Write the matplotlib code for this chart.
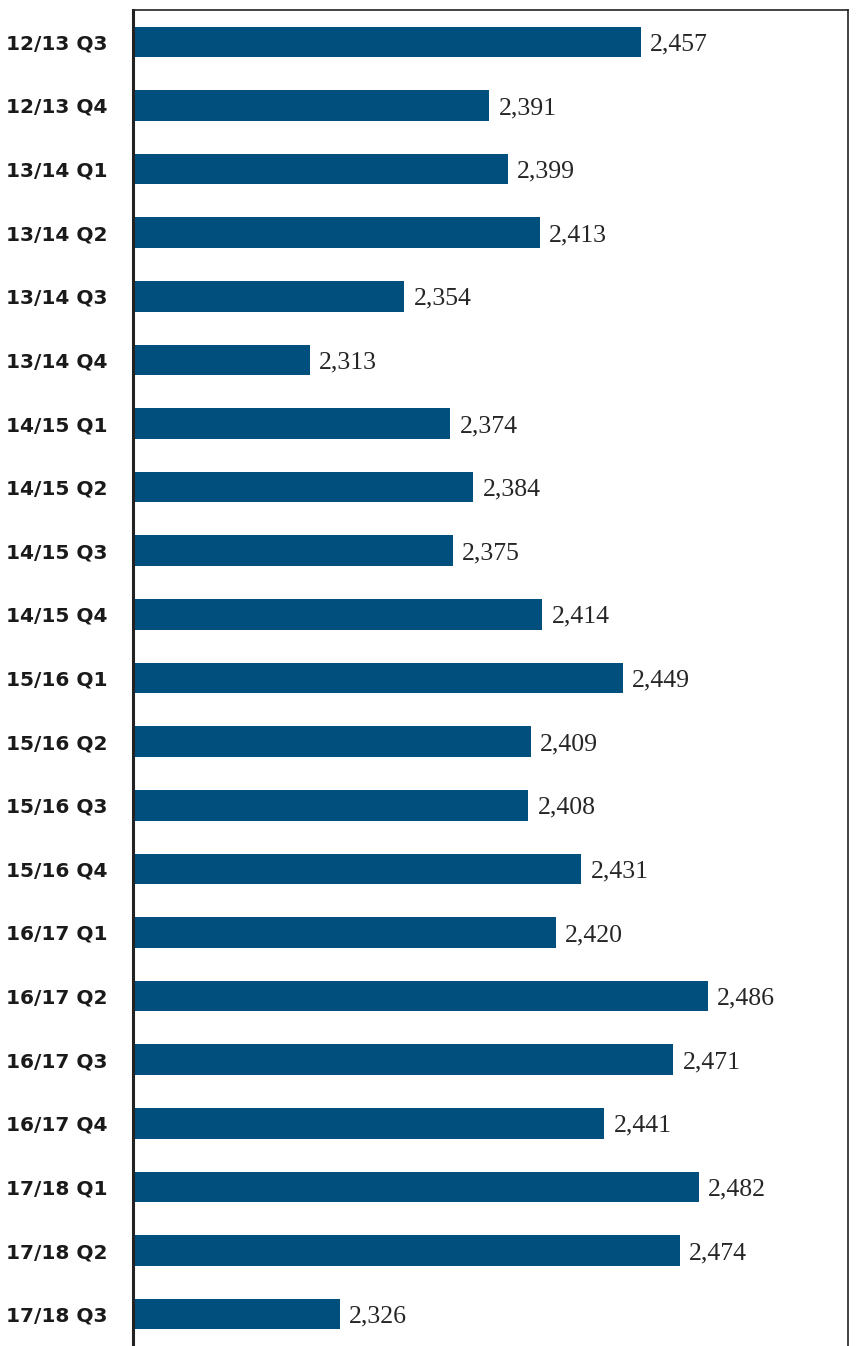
import matplotlib.pyplot as plt

quarters = ["12/13 Q3", "12/13 Q4", "13/14 Q1", "13/14 Q2", "13/14 Q3", "13/14 Q4",
            "14/15 Q1", "14/15 Q2", "14/15 Q3", "14/15 Q4", "15/16 Q1", "15/16 Q2",
            "15/16 Q3", "15/16 Q4", "16/17 Q1", "16/17 Q2", "16/17 Q3", "16/17 Q4",
            "17/18 Q1", "17/18 Q2", "17/18 Q3"]
values = [2457, 2391, 2399, 2413, 2354, 2313, 2374, 2384, 2375, 2414, 2449, 2409,
          2408, 2431, 2420, 2486, 2471, 2441, 2482, 2474, 2326]

fig = plt.figure(figsize=(8.58, 13.46), dpi=100)
ax = fig.add_axes([133 / 858, 0, (848 - 133) / 858, 1 - 10 / 1346])

pos = list(range(len(values)))
ax.barh(pos, values, height=0.48, color="#004f7c")

ax.set_xlim(2236, 2547)
ax.set_ylim(len(values) - 0.5, -0.5)

for y, v in zip(pos, values):
    ax.text(v + 4, y + 0.04, f"{v:,}", va="center", ha="left",
            fontsize=18.5, family="Liberation Serif", color="#262626")

ax.set_yticks(pos)
ax.set_yticklabels(quarters, fontsize=14.5, fontweight="bold",
                   family="DejaVu Sans", color="#1a1a1a")
ax.tick_params(axis="y", length=0, pad=18)
ax.set_xticks([])

ax.spines["left"].set_linewidth(2.2)
ax.spines["top"].set_linewidth(1.2)
ax.spines["right"].set_linewidth(1.2)
ax.spines["bottom"].set_visible(False)
for s in ax.spines.values():
    s.set_color("#222222")

fig.savefig("out.png", dpi=100)
